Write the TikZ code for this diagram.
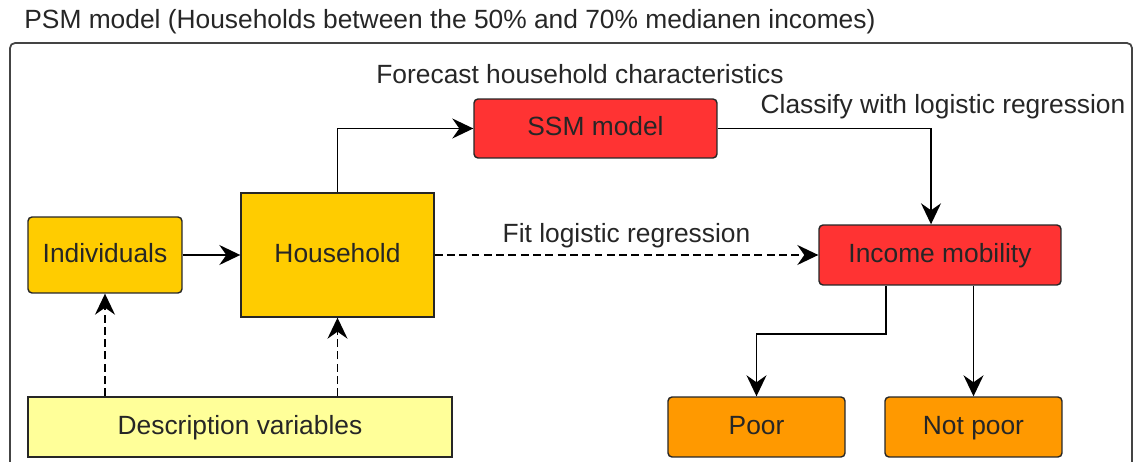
\documentclass[tikz,border=0pt]{standalone}
\usepackage{fontspec}
\setmainfont{Liberation Sans}
\usetikzlibrary{arrows.meta}

\definecolor{ssmred}{HTML}{FF3333}
\definecolor{hhyellow}{HTML}{FFCC00}
\definecolor{varyellow}{HTML}{FFFF99}
\definecolor{resorange}{HTML}{FF9900}
\definecolor{framegray}{HTML}{444444}

\begin{document}
\begin{tikzpicture}[x=0.02cm, y=-0.02cm,
	every node/.style={font=\fontsize{15}{18}\selectfont, text=black!85},
	block/.style={draw=black!85, line width=0.8pt, inner sep=0pt, text height=0.8em, text depth=0pt},
	roundblock/.style={block, rounded corners=0.08cm},
	arr/.style={-{Stealth[length=0.42cm, width=0.4cm, inset=0.14cm]}, line width=0.95pt},
	dashy/.style={dash pattern=on 4.5pt off 2.5pt}]
		\useasboundingbox (0,0) rectangle (1136,462);

		% outer frame
		\node[anchor=west, inner xsep=0pt] (title) at (24,22) {PSM model (Households between the 50\% and 70\% medianen incomes)};
		\draw[framegray, line width=1pt, rounded corners=0.1cm] (10,475) -- (10,43) -- (1132,43) -- (1132,475);

		% blocks
		\node[roundblock, fill=hhyellow, minimum width=3.08cm, minimum height=1.52cm] (indiv) at (105,255) {Individuals};
		\node[block, fill=hhyellow, minimum width=3.86cm, minimum height=2.48cm] (house) at (337.5,255) {Household};
		\node[block, fill=varyellow, minimum width=8.48cm, minimum height=1.2cm] (descr) at (240,427) {Description variables};
		\node[roundblock, fill=ssmred, minimum width=4.86cm, minimum height=1.18cm] (ssm) at (595.5,128.5) {SSM model};
		\node[roundblock, fill=ssmred, minimum width=4.84cm, minimum height=1.2cm] (income) at (940,255) {Income mobility};
		\node[roundblock, fill=resorange, minimum width=3.54cm, minimum height=1.2cm] (poor) at (756.5,427) {Poor};
		\node[roundblock, fill=resorange, minimum width=3.54cm, minimum height=1.2cm] (notpoor) at (973.5,427) {Not poor};

		% labels
		\node (forecast) at (580,74) {Forecast household characteristics};
		\node (classify) at (943,107) {Classify with logistic regression};

		% connectors
		\draw[arr] (indiv) -- (house);
		\draw[arr] (house.north) |- (ssm.west);
		\draw[arr] (ssm.east) -| ([xshift=-0.18cm]income.north);
		\draw[arr, dashy] (house) -- node[above=0pt] {Fit logistic regression} (income);
		\draw[arr] ([xshift=-1.08cm]income.south) -- ++(0,48) -| (poor.north);
		\draw[arr] (notpoor.north |- income.south) -- (notpoor.north);
		\draw[arr, dashy] (descr.north -| indiv.south) -- (indiv.south);
		\draw[arr, dashy] (descr.north -| house.south) -- (house.south);
\end{tikzpicture}
\end{document}
